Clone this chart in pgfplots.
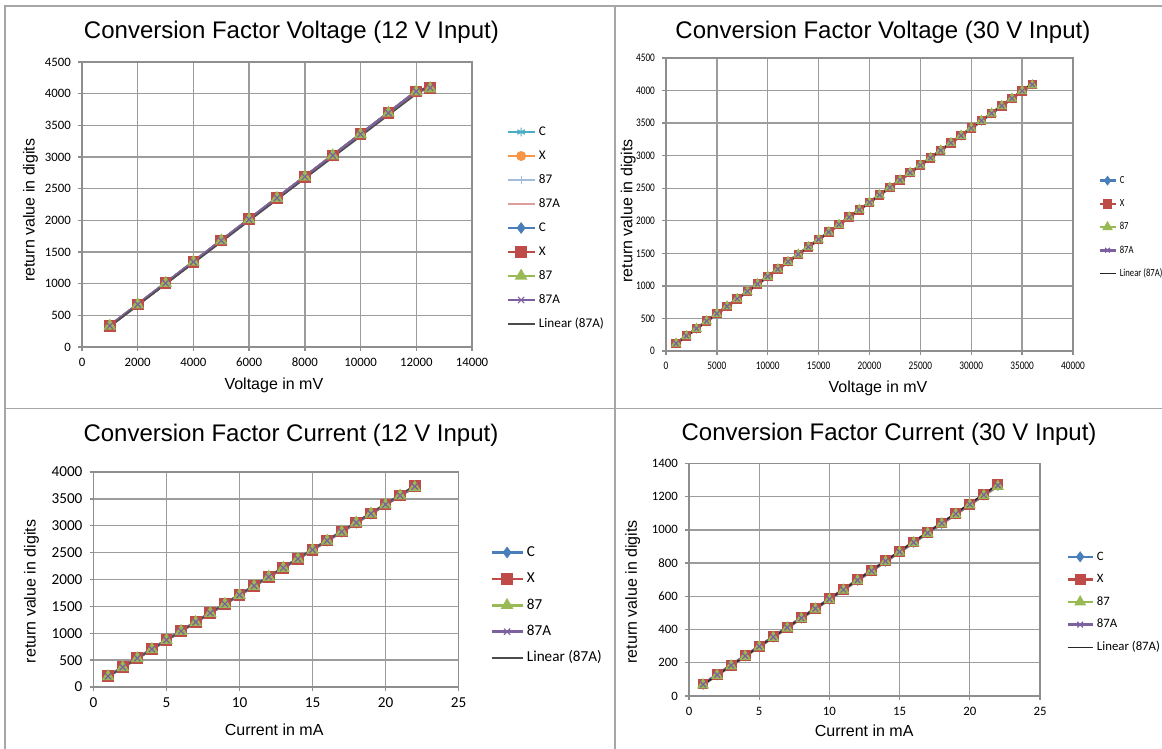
\documentclass[border=0pt]{standalone}
\usepackage{pgfplots}
\pgfplotsset{compat=1.18}
\usepackage{pgfplotstable}
\usepackage{fontspec}
\setmainfont{Liberation Sans}
\newfontfamily\calfont{Carlito}
\newfontfamily\calcond[FakeStretch=0.8]{Carlito}

\definecolor{cC}{HTML}{4A7EBB}
\definecolor{cX}{HTML}{BE4B48}
\definecolor{c87}{HTML}{98B954}
\definecolor{c87A}{HTML}{7D60A0}
\definecolor{lC}{HTML}{4BACC6}
\definecolor{lX}{HTML}{F79646}
\definecolor{l87}{HTML}{A3BCDC}
\definecolor{l87A}{HTML}{DC9D9B}
\definecolor{grgray}{HTML}{9C9C9C}
\definecolor{axgray}{HTML}{8E8E8E}
\definecolor{bdgray}{HTML}{A6A6A6}

% voltage, 12 V input
\pgfplotstableread{
x     C    X    p87  p87A
1000  335  335  333  335
2000  671  672  670  671
3000  1008 1008 1006 1008
4000  1344 1344 1342 1344
5000  1681 1680 1678 1680
6000  2017 2016 2014 2016
7000  2353 2352 2350 2352
8000  2689 2688 2686 2688
9000  3025 3024 3022 3024
10000 3362 3360 3358 3360
11000 3698 3696 3694 3696
12000 4034 4035 4030 4034
12500 4095 4095 4080 4092
}\vtwelve

% voltage, 30 V input
\pgfplotstableread{
x     C    X    p87  p87A
1000  117  117  115  117
2000  231  231  229  231
3000  345  345  343  345
4000  459  459  457  459
5000  573  573  571  573
6000  687  687  685  687
7000  801  801  799  801
8000  915  915  913  915
9000  1029 1029 1027 1029
10000 1143 1143 1141 1143
11000 1257 1257 1255 1257
12000 1371 1371 1369 1371
13000 1485 1485 1483 1485
14000 1599 1599 1597 1599
15000 1713 1713 1711 1713
16000 1827 1827 1825 1827
17000 1941 1941 1939 1941
18000 2055 2055 2053 2055
19000 2169 2169 2167 2169
20000 2283 2283 2281 2283
21000 2397 2397 2395 2397
22000 2511 2511 2509 2511
23000 2625 2625 2623 2625
24000 2739 2739 2737 2739
25000 2853 2853 2851 2853
26000 2967 2967 2965 2967
27000 3081 3081 3079 3081
28000 3195 3195 3193 3195
29000 3309 3309 3307 3309
30000 3423 3423 3421 3423
31000 3537 3537 3535 3537
32000 3651 3651 3649 3651
33000 3765 3765 3763 3765
34000 3879 3879 3877 3879
35000 3993 3993 3991 3993
36000 4095 4095 4080 4092
}\vthirty

% current, 12 V input
\pgfplotstableread{
x  C    X    p87  p87A
1  200  202  196  200
2  368  370  364  368
3  536  538  532  536
4  704  706  700  704
5  873  875  869  873
6  1041 1043 1037 1041
7  1209 1211 1205 1209
8  1377 1379 1373 1377
9  1545 1547 1541 1545
10 1713 1715 1709 1713
11 1881 1883 1877 1881
12 2049 2051 2045 2049
13 2217 2219 2213 2217
14 2385 2387 2381 2385
15 2554 2556 2550 2554
16 2722 2724 2718 2722
17 2890 2892 2886 2890
18 3058 3060 3054 3058
19 3226 3228 3222 3226
20 3394 3396 3390 3394
21 3562 3564 3558 3562
22 3730 3740 3715 3730
}\ctwelve

% current, 30 V input
\pgfplotstableread{
x  C    X    p87  p87A
1  70   72   67   70
2  127  129  124  127
3  184  186  181  184
4  241  243  238  241
5  298  300  295  298
6  355  357  352  355
7  412  414  409  412
8  469  471  466  469
9  526  528  523  526
10 583  585  580  583
11 640  642  637  640
12 697  699  694  697
13 754  756  751  754
14 811  813  808  811
15 868  870  865  868
16 925  927  922  925
17 982  984  979  982
18 1039 1041 1036 1039
19 1096 1098 1093 1096
20 1153 1155 1150 1153
21 1210 1212 1207 1210
22 1268 1272 1262 1268
}\cthirty

\def\msc{1}
\pgfplotsset{
  xl/.style={
    scale only axis, anchor=south west,
    axis line style={draw=axgray, line width=0.65pt},
    grid=major, major grid style={draw=grgray, line width=0.65pt},
    tick align=outside, xtick pos=bottom, ytick pos=left,
    major tick length=2pt, tick style={draw=axgray, line width=0.65pt},
    scaled ticks=false,
    /pgf/number format/assume math mode=true,
    /pgf/number format/1000 sep={},
    label style={font=\fontsize{8}{9.6}\selectfont},
    xlabel style={anchor=center},
    ylabel style={anchor=center},
    every axis title shift=0pt,
    title style={font=\fontsize{12}{14}\selectfont, anchor=center},
    legend cell align=left,
    legend style={draw=none, fill=none, anchor=west, inner sep=0pt, column sep=1pt},
  },
  legimg/.style={legend image code/.code={%
    \draw[mark repeat=2,mark phase=2] plot coordinates {(0pt,0pt) ({#1/2},0pt) (#1,0pt)};}},
  sC/.style={color=cC, line width=1.3pt, mark=diamond*, mark size=1.9pt*\msc, mark options={solid}},
  sX/.style={color=cX, line width=1.3pt, mark=square*, mark size=2.3pt*\msc, mark options={solid}},
  s87/.style={color=c87, line width=1.3pt, mark=triangle*, mark size=2.4pt*\msc, mark options={solid}},
  s87A/.style={color=c87A, line width=1.3pt, mark=x, mark size=2.2pt*\msc, mark options={solid, line width=0.6pt}},
  sLC/.style={color=lC, line width=1.3pt, mark=asterisk, mark size=2.2pt, mark options={solid, line width=0.6pt}},
  sLX/.style={color=lX, line width=1.3pt, mark=*, mark size=1.8pt, mark options={solid}},
  sL87/.style={color=l87, line width=1.3pt, mark=+, mark size=2.2pt, mark options={solid, line width=0.6pt}},
  sL87A/.style={color=l87A, line width=1.3pt, mark=none},
  sTr/.style={color=black!85, line width=0.7pt, mark=none},
}

\begin{document}
\begin{tikzpicture}
\path[use as bounding box] (0,0) rectangle (581pt,374.5pt);
\fill[white] (0,0) rectangle (581pt,374.5pt);

% ---- voltage, 12 V
\begin{axis}[xl, at={(41pt,201pt)}, width=195pt, height=142.5pt,
  xmin=0, xmax=14000, ymin=0, ymax=4500, xtick distance=2000, ytick distance=500,
  tick label style={font=\calfont\fontsize{6.4}{7.5}\selectfont},
  title={Conversion Factor Voltage (12 V Input)},
  title style={at={(axis description cs:0.537,1.105)}},
  xlabel={Voltage in mV}, xlabel style={at={(axis description cs:0.492,-0.133)}},
  ylabel={return value in digits}, ylabel style={at={(axis description cs:-0.132,0.48)}},
  legimg=13.5pt,
  legend style={at={(axis description cs:1.087,0.4175)}, row sep=5.2pt,
    nodes={font=\calfont\fontsize{6.6}{8}\selectfont, inner sep=0.5pt, text height=4.6pt, text depth=1.2pt}},
]
\addplot[sLC] table[x=x, y=C] {\vtwelve};
\addplot[sLX] table[x=x, y=X] {\vtwelve};
\addplot[sL87] table[x=x, y=p87] {\vtwelve};
\addplot[sL87A] table[x=x, y=p87A] {\vtwelve};
\addplot[sC] table[x=x, y=C] {\vtwelve};
\addplot[sX] table[x=x, y=X] {\vtwelve};
\addplot[s87] table[x=x, y=p87] {\vtwelve};
\addplot[s87A] table[x=x, y=p87A] {\vtwelve};
\addplot[sTr, color=black!70] coordinates {(1000,322) (12500,4160)};
\legend{C,X,87,87A,C,X,87,87A,Linear (87A)}
\end{axis}

% ---- voltage, 30 V
\def\msc{0.75}
\begin{axis}[xl, at={(333pt,199pt)}, width=203.5pt, height=146.5pt,
  xmin=0, xmax=40000, ymin=0, ymax=4500, xtick distance=5000, ytick distance=500,
  tick label style={font=\calcond\fontsize{5.8}{7}\selectfont},
  title={Conversion Factor Voltage (30 V Input)},
  title style={at={(axis description cs:0.533,1.088)}},
  xlabel={Voltage in mV}, xlabel style={at={(axis description cs:0.521,-0.126)}},
  ylabel={return value in digits}, ylabel style={at={(axis description cs:-0.093,0.478)}},
  legimg=8pt,
  legend style={at={(axis description cs:1.061,0.423)}, row sep=5.8pt,
    nodes={font=\calcond\fontsize{5.4}{6.5}\selectfont, inner sep=0.5pt, text height=3.8pt, text depth=1pt}},
]
\addplot[sC] table[x=x, y=C] {\vthirty};
\addplot[sX] table[x=x, y=X] {\vthirty};
\addplot[s87] table[x=x, y=p87] {\vthirty};
\addplot[s87A] table[x=x, y=p87A] {\vthirty};
\addplot[sTr] coordinates {(1000,110) (36000,4112)};
\legend{C,X,87,87A,Linear (87A)}
\end{axis}

% ---- current, 12 V
\def\msc{1}
\begin{axis}[xl, at={(46.75pt,31pt)}, width=182.5pt, height=107.5pt,
  xmin=0, xmax=25, ymin=0, ymax=4000, xtick distance=5, ytick distance=500,
  tick label style={font=\calfont\fontsize{7.6}{9}\selectfont},
  title={Conversion Factor Current (12 V Input)},
  title style={at={(axis description cs:0.541,1.172)}},
  xlabel={Current in mA}, xlabel style={at={(axis description cs:0.495,-0.2)}},
  ylabel={return value in digits}, ylabel style={at={(axis description cs:-0.17,0.444)}},
  legimg=15.5pt,
  legend style={at={(axis description cs:1.086,0.38)}, row sep=5.5pt,
    nodes={font=\calfont\fontsize{7.6}{9}\selectfont, inner sep=0.5pt, text height=5.3pt, text depth=1.4pt}},
]
\addplot[sC] table[x=x, y=C] {\ctwelve};
\addplot[sX] table[x=x, y=X] {\ctwelve};
\addplot[s87] table[x=x, y=p87] {\ctwelve};
\addplot[s87A] table[x=x, y=p87A] {\ctwelve};
\addplot[sTr, color=black!70] coordinates {(1,195) (22,3745)};
\legend{C,X,87,87A,Linear (87A)}
\end{axis}

% ---- current, 30 V
\def\msc{0.9}
\begin{axis}[xl, at={(344.5pt,26.5pt)}, width=175.5pt, height=116.3pt,
  xmin=0, xmax=25, ymin=0, ymax=1400, xtick distance=5, ytick distance=200,
  tick label style={font=\calfont\fontsize{6.4}{7.5}\selectfont},
  title={Conversion Factor Current (30 V Input)},
  title style={at={(axis description cs:0.57,1.123)}},
  xlabel={Current in mA}, xlabel style={at={(axis description cs:0.499,-0.151)}},
  ylabel={return value in digits}, ylabel style={at={(axis description cs:-0.16,0.448)}},
  legimg=12.5pt,
  legend style={at={(axis description cs:1.074,0.404)}, row sep=4.6pt,
    nodes={font=\calfont\fontsize{6.4}{7.5}\selectfont, inner sep=0.5pt, text height=4.5pt, text depth=1.2pt}},
]
\addplot[sC] table[x=x, y=C] {\cthirty};
\addplot[sX] table[x=x, y=X] {\cthirty};
\addplot[s87] table[x=x, y=p87] {\cthirty};
\addplot[s87A] table[x=x, y=p87A] {\cthirty};
\addplot[sTr] coordinates {(1,68) (22,1272)};
\legend{C,X,87,87A,Linear (87A)}
\end{axis}

% panel borders
\draw[bdgray, line width=0.9pt] (2.5pt,0) -- (2.5pt,371.5pt) -- (581pt,371.5pt);
\draw[bdgray, line width=0.9pt] (307.5pt,0) -- (307.5pt,371.5pt);
\draw[bdgray, line width=0.9pt] (2.5pt,170.25pt) -- (581pt,170.25pt);
\end{tikzpicture}
\end{document}
